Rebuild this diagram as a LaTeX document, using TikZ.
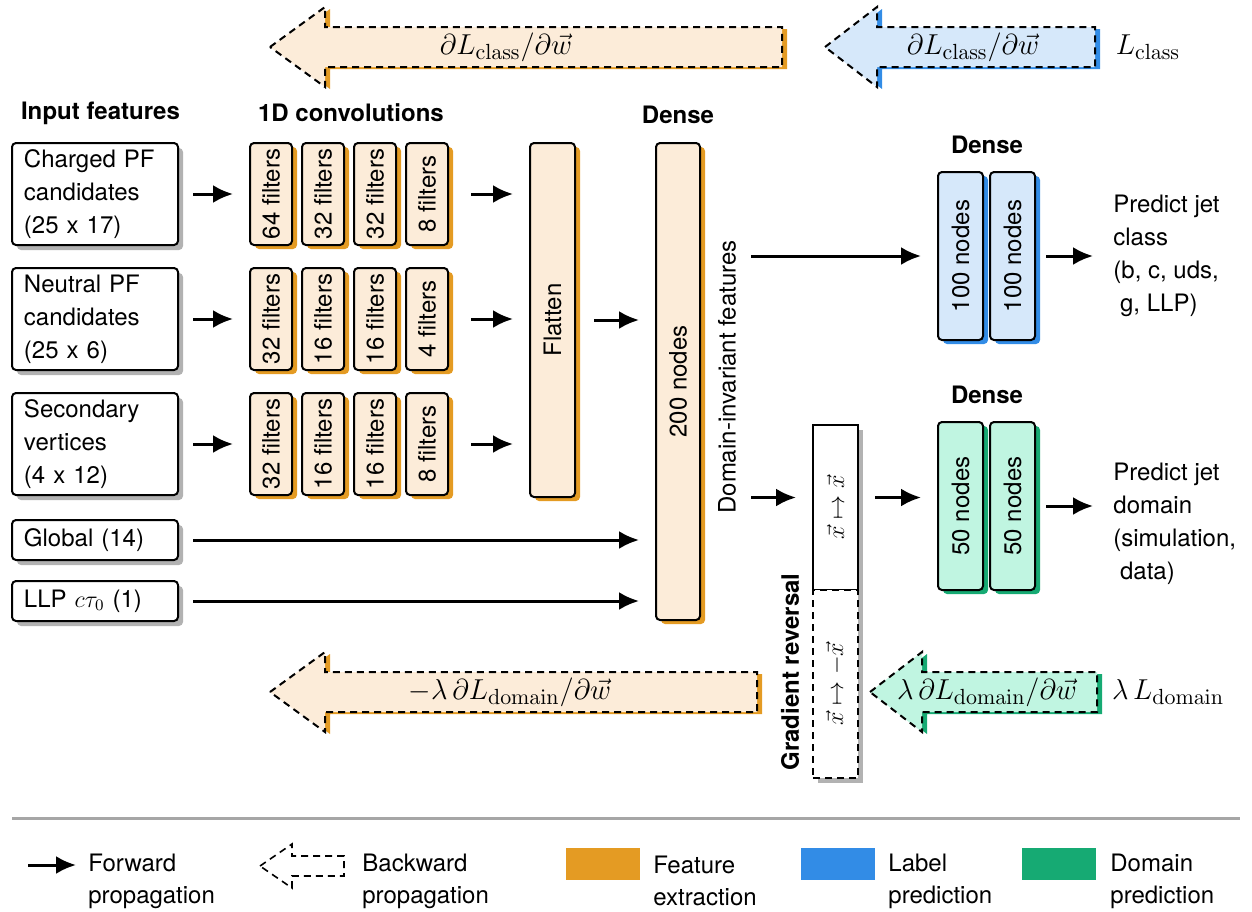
\documentclass[tikz,border=0pt]{standalone}
\usepackage{amsmath}
\usepackage[no-math]{fontspec}
\setmainfont{TeX Gyre Heros}
\usepackage{graphicx}
\usepackage{tikz}
\usetikzlibrary{arrows.meta,shadows}
\definecolor{featdark}{RGB}{228,155,35}
\definecolor{featlight}{RGB}{252,236,217}
\definecolor{labeldark}{RGB}{50,140,230}
\definecolor{labellight}{RGB}{214,232,250}
\definecolor{domdark}{RGB}{22,170,115}
\definecolor{domlight}{RGB}{192,245,225}

\newcommand\vtext[1]{\rotatebox{90}{#1}}
% backward arrow: tip x, head x, tail x, centre y, colour
\newcommand\backarrow[5]{%
  \fill[#5dark, shift={(2.5pt,-1pt)}] (#1,#4) -- (#2,#4-40) -- (#2,#4-20) -- (#3,#4-20)
    -- (#3,#4+20) -- (#2,#4+20) -- (#2,#4+40) -- cycle;
  \draw[back, fill=#5light] (#1,#4) -- (#2,#4-40) -- (#2,#4-20) -- (#3,#4-20)
    -- (#3,#4+20) -- (#2,#4+20) -- (#2,#4+40) -- cycle;}

\begin{document}
\begin{tikzpicture}[x=0.5pt, y=-0.5pt, font=\fontsize{12}{16.5}\selectfont,
  inbox/.style={draw, line width=1pt, rounded corners=2pt, fill=white, align=left,
    text width=71pt, inner xsep=6pt, inner ysep=0pt, minimum height=51pt,
    drop shadow={shadow xshift=2.5pt, shadow yshift=-2.5pt, fill=black!30, opacity=1}},
  layer/.style={draw, line width=1pt, rounded corners=2pt, inner sep=0pt, fill=#1light,
    minimum width=21pt,
    drop shadow={shadow xshift=2.5pt, shadow yshift=-2pt, fill=#1dark, opacity=1}},
  conv/.style={layer=feat, minimum height=51pt},
  grbox/.style={draw, line width=1pt, fill=white, inner sep=0pt, minimum width=22.5pt,
    font=\fontsize{13}{15}\selectfont,
    drop shadow={shadow xshift=2.5pt, shadow yshift=-2.5pt, fill=black!30, opacity=1}},
  head/.style={font=\fontsize{12}{14}\selectfont\bfseries},
  grad/.style={font=\fontsize{15}{18}\selectfont, inner sep=0pt},
  back/.style={dash pattern=on 3.5pt off 2.5pt, line width=1pt},
  fwd/.style={-{Latex[length=10pt,width=9pt]}, line width=1.5pt, shorten <=7pt, shorten >=8pt},
  leg/.style={anchor=west, align=left, inner sep=0pt, font=\fontsize{12}{16}\selectfont},
  swatch/.style={minimum width=37pt, minimum height=16pt, inner sep=0pt}]
  \useasboundingbox (0,0) rectangle (1252,911);

  % gradients flowing back
  \backarrow{270}{325}{782}{47}{feat}
  \backarrow{825}{877}{1095}{47}{label}
  \backarrow{270}{325}{757}{692}{feat}
  \backarrow{870}{922}{1097}{692}{dom}
  \node[grad] (gfeat) at (506,47)  {$\partial L_{\mathrm{class}}/\partial\vec{w}$};
  \node[grad] (glab)  at (973,47)  {$\partial L_{\mathrm{class}}/\partial\vec{w}$};
  \node[grad] (lcls)  at (1148,47) {$L_{\mathrm{class}}$};
  \node[grad] (gfd)   at (510,692) {$-\lambda\,\partial L_{\mathrm{domain}}/\partial\vec{w}$};
  \node[grad] (gdom)  at (987,692) {$\lambda\,\partial L_{\mathrm{domain}}/\partial\vec{w}$};
  \node[grad] (ldom)  at (1168,692) {$\lambda\,L_{\mathrm{domain}}$};

  \node[head, anchor=west] (hin)   at (14,113)  {Input features};
  \node[head, anchor=west] (hconv) at (251,113) {1D convolutions};
  \node[head] (hdense) at (678,115) {Dense};
  \node[head] (hcls)   at (987,145) {Dense};
  \node[head] (hdom)   at (987,395) {Dense};

  % inputs
  \node[inbox] (charged) at (95,194) {Charged PF\\candidates\\(25 x 17)};
  \node[inbox] (neutral) at (95,319) {Neutral PF\\candidates\\(25 x 6)};
  \node[inbox] (second)  at (95,444) {Secondary\\vertices\\(4 x 12)};
  \node[inbox, minimum height=20pt] (global) at (95,540) {Global (14)};
  \node[inbox, minimum height=20pt] (llp)    at (95,601) {LLP $c\tau_0$ (1)};

  % 1D convolutions
  \node[conv] (c11) at (271,194) {\vtext{64 filters}};
  \node[conv] (c12) at (323,194) {\vtext{32 filters}};
  \node[conv] (c13) at (375,194) {\vtext{32 filters}};
  \node[conv] (c14) at (427,194) {\vtext{8 filters}};
  \node[conv] (c21) at (271,319) {\vtext{32 filters}};
  \node[conv] (c22) at (323,319) {\vtext{16 filters}};
  \node[conv] (c23) at (375,319) {\vtext{16 filters}};
  \node[conv] (c24) at (427,319) {\vtext{4 filters}};
  \node[conv] (c31) at (271,444) {\vtext{32 filters}};
  \node[conv] (c32) at (323,444) {\vtext{16 filters}};
  \node[conv] (c33) at (375,444) {\vtext{16 filters}};
  \node[conv] (c34) at (427,444) {\vtext{8 filters}};

  \node[layer=feat, minimum width=22.5pt, minimum height=177pt] (flatten) at (552.5,320) {\vtext{Flatten}};
  \node[layer=feat, minimum width=22pt, minimum height=238.5pt] (dense) at (678,381.5) {\vtext{200 nodes}};
  \node[rotate=90] (dinv) at (727,377) {Domain-invariant features};

  % label branch
  \node[layer=label, minimum width=22.5pt, minimum height=84pt] (cls1) at (960.5,256) {\vtext{100 nodes}};
  \node[layer=label, minimum width=22.5pt, minimum height=84pt] (cls2) at (1012.5,256) {\vtext{100 nodes}};
  \node[anchor=west, align=left, inner sep=0pt] (pcls) at (1113,256) {Predict jet\\class\\(b, c, uds,\\\hspace{0.28em}g, LLP)};

  % domain branch
  \node[grbox, minimum height=82.5pt] (grtop) at (835.5,507.5) {\vtext{$\vec{x}\mapsto\vec{x}$}};
  \node[grbox, back, minimum height=94pt] (grbot) at (835.5,684) {\vtext{$\vec{x}\mapsto-\vec{x}$}};
  \node[head, rotate=90] (grlab) at (790,672) {Gradient reversal};
  \node[layer=dom, minimum width=22.5pt, minimum height=84pt] (dom1) at (960.5,506) {\vtext{50 nodes}};
  \node[layer=dom, minimum width=22.5pt, minimum height=84pt] (dom2) at (1012.5,506) {\vtext{50 nodes}};
  \node[anchor=west, align=left, inner sep=0pt] (pdom) at (1113,524) {Predict jet\\domain\\(simulation,\\\hspace{0.28em}data)};
  \coordinate (grin) at ([yshift=5pt]grtop.west);
  \coordinate (grout) at ([yshift=5pt]grtop.east);

  % forward pass
  \draw[fwd] (charged.east) -- (c11.west);
  \draw[fwd] (neutral.east) -- (c21.west);
  \draw[fwd] (second.east) -- (c31.west);
  \draw[fwd, shorten <=11pt] (c14.east) -- (c14.east -| flatten.west);
  \draw[fwd, shorten <=11pt] (c24.east) -- (c24.east -| flatten.west);
  \draw[fwd, shorten <=11pt] (c34.east) -- (c34.east -| flatten.west);
  \draw[fwd, shorten <=9pt] (flatten.east) -- (flatten.east -| dense.west);
  \draw[fwd] (global.east) -- (global.east -| dense.west);
  \draw[fwd] (llp.east) -- (llp.east -| dense.west);
  \draw[fwd, shorten <=25pt] (dense.east |- cls1.west) -- (cls1.west);
  \draw[fwd, shorten <=5pt, shorten >=10pt] (cls2.east) -- (cls2.east -| pcls.west);
  \draw[fwd, shorten <=25pt] (dense.east |- grin) -- (grin);
  \draw[fwd, shorten <=8pt] (grout) -- (grout -| dom1.west);
  \draw[fwd, shorten <=5pt, shorten >=10pt] (dom2.east) -- (dom2.east -| pdom.west);

  % legend
  \draw[black!35, line width=1.5pt] (12,818) -- (1240,818);
  \coordinate (fwda) at (28,865);
  \coordinate (fwdb) at (76,865);
  \draw[fwd, shorten <=0pt, shorten >=0pt] (fwda) -- (fwdb);
  \node[leg] (lfwd) at (88,881) {Forward\\propagation};
  \draw[back, line width=0.8pt] (260,866) -- (292,844) -- (292,856) -- (344,856) -- (344,876)
    -- (292,876) -- (292,888) -- cycle;
  \node[leg] (lback) at (362,881) {Backward\\propagation};
  \node[swatch, fill=featdark] (sfeat) at (603,864) {};
  \node[leg] (lfeat) at (653,881) {Feature\\extraction};
  \node[swatch, fill=labeldark] (slab) at (838,864) {};
  \node[leg] (llab) at (888,881) {Label\\prediction};
  \node[swatch, fill=domdark] (sdom) at (1059,864) {};
  \node[leg] (ldomleg) at (1110,881) {Domain\\prediction};
\end{tikzpicture}
\end{document}
